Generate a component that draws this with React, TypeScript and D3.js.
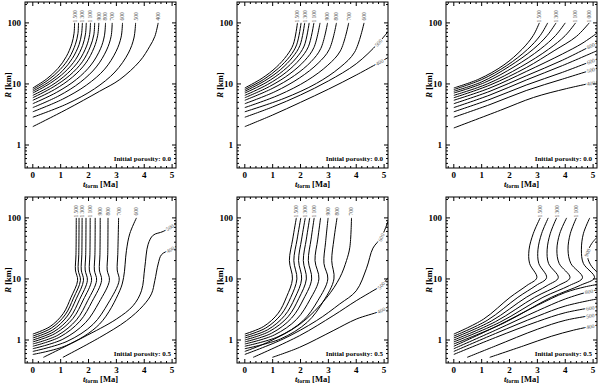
import React from 'react';
import * as d3 from 'd3';

type Pt = [number, number];
interface Contour { level: number; pts: Pt[]; label?: 'top' | number }

// porosity 0.0, left
const panelA: Contour[] = [
  { level: 1500, label: 'top', pts: [[0, 8.6], [0.5, 12.1], [0.9, 17.9], [1.2, 27.9], [1.4, 45.6], [1.48, 67.6], [1.5, 100]] },
  { level: 1400, pts: [[0, 8.1], [0.54, 11.5], [0.98, 17.2], [1.31, 27], [1.53, 44.8], [1.62, 66.8], [1.64, 100]] },
  { level: 1300, label: 'top', pts: [[0, 7.6], [0.59, 10.9], [1.07, 16.5], [1.42, 26.2], [1.66, 43.9], [1.75, 66.2], [1.78, 100]] },
  { level: 1200, pts: [[0, 7.1], [0.63, 10.3], [1.15, 15.7], [1.54, 25.3], [1.79, 42.9], [1.89, 65.5], [1.92, 100]] },
  { level: 1100, label: 'top', pts: [[0, 6.5], [0.68, 9.5], [1.24, 14.8], [1.66, 24.2], [1.93, 41.7], [2.04, 64.6], [2.07, 100]] },
  { level: 1000, pts: [[0, 5.95], [0.73, 8.9], [1.33, 13.9], [1.78, 23.1], [2.06, 40.5], [2.19, 63.7], [2.22, 100]] },
  { level: 900, label: 'top', pts: [[0, 5.4], [0.78, 8.1], [1.42, 12.9], [1.9, 21.9], [2.2, 39.3], [2.33, 62.7], [2.37, 100]] },
  { level: 800, label: 'top', pts: [[0, 4.75], [0.86, 7.3], [1.57, 11.9], [2.09, 20.5], [2.43, 37.7], [2.57, 61.4], [2.61, 100]] },
  { level: 700, label: 'top', pts: [[0, 4.1], [0.94, 6.4], [1.71, 10.7], [2.28, 19], [2.65, 36], [2.81, 60], [2.85, 100]] },
  { level: 600, label: 'top', pts: [[0, 3.5], [1.06, 5.6], [1.93, 9.6], [2.58, 17.5], [2.99, 34.2], [3.17, 58.5], [3.22, 100]] },
  { level: 500, label: 'top', pts: [[0, 2.85], [1.22, 4.7], [2.21, 8.3], [2.95, 15.7], [3.43, 32], [3.63, 56.6], [3.69, 100]] },
  { level: 400, label: 'top', pts: [[0, 2.0], [1.2, 3.8], [2.4, 7.6], [3.12, 11.8], [3.84, 23.6], [4.2, 41.5], [4.38, 60], [4.5, 100]] },
];

// porosity 0.0, middle
const panelB: Contour[] = [
  { level: 1500, label: 'top', pts: [[0, 8.6], [0.62, 12.4], [1.13, 18.8], [1.51, 29.3], [1.74, 44.5], [1.89, 100]] },
  { level: 1400, pts: [[0, 8.1], [0.67, 11.8], [1.21, 18.1], [1.62, 28.4], [1.86, 43.7], [2.02, 100]] },
  { level: 1300, label: 'top', pts: [[0, 7.6], [0.71, 11.2], [1.29, 17.3], [1.72, 27.6], [1.98, 42.8], [2.15, 100]] },
  { level: 1200, pts: [[0, 7.1], [0.76, 10.5], [1.39, 16.6], [1.85, 26.7], [2.13, 41.8], [2.31, 100]] },
  { level: 1100, label: 'top', pts: [[0, 6.5], [0.82, 9.8], [1.49, 15.6], [1.98, 25.5], [2.28, 40.6], [2.48, 100]] },
  { level: 1000, pts: [[0, 5.95], [0.89, 9.1], [1.62, 14.7], [2.16, 24.4], [2.48, 39.4], [2.7, 100]] },
  { level: 900, label: 'top', pts: [[0, 5.4], [0.98, 8.4], [1.78, 13.7], [2.38, 23.2], [2.73, 38.2], [2.97, 100]] },
  { level: 800, label: 'top', pts: [[0, 4.75], [1.09, 7.5], [1.97, 12.6], [2.63, 21.8], [3.03, 36.6], [3.29, 100]] },
  { level: 700, label: 'top', pts: [[0, 4.1], [1.23, 6.6], [2.24, 11.4], [2.98, 20.3], [3.43, 34.8], [3.73, 100]] },
  { level: 600, label: 'top', pts: [[0, 3.5], [1.41, 5.8], [2.57, 10.2], [3.42, 18.7], [3.94, 33.1], [4.28, 100]] },
  { level: 500, label: 4.8, pts: [[0, 2.85], [1, 4.2], [2, 6.6], [3, 11.2], [4, 21.4], [4.78, 46], [5.14, 72]] },
  { level: 400, label: 4.84, pts: [[0, 2.0], [1, 3.1], [2, 5.0], [3, 8.2], [4, 14], [5.14, 27]] },
];

// porosity 0.0, right
const panelC: Contour[] = [
  { level: 1500, label: 'top', pts: [[0, 8.6], [0.9, 12], [1.8, 20.5], [2.45, 37], [2.85, 62], [3.07, 100]] },
  { level: 1400, pts: [[0, 8.1], [1.0, 11.8], [1.9, 20], [2.65, 37], [3.1, 62], [3.37, 100]] },
  { level: 1300, label: 'top', pts: [[0, 7.6], [1.0, 10.8], [2.0, 19.5], [2.85, 37], [3.35, 62], [3.67, 100]] },
  { level: 1200, pts: [[0, 7.1], [1.1, 10.5], [2.2, 19.5], [3.1, 37], [3.65, 62], [4.0, 100]] },
  { level: 1100, label: 'top', pts: [[0, 6.5], [1.2, 10], [2.4, 19], [3.4, 37], [4.0, 62], [4.37, 100]] },
  { level: 1000, label: 'top', pts: [[0, 5.95], [1.3, 9.6], [2.6, 18.5], [3.6, 35], [4.4, 60], [4.86, 100]] },
  { level: 900, pts: [[0, 5.4], [1.3, 8.6], [2.6, 16], [3.9, 31], [4.6, 46], [5.14, 68]] },
  { level: 800, label: 4.92, pts: [[0, 4.75], [1.3, 7.6], [2.6, 13.6], [3.9, 24.5], [5.14, 47]] },
  { level: 700, pts: [[0, 4.1], [1.3, 6.6], [2.6, 11.6], [3.9, 20], [5.14, 35]] },
  { level: 600, label: 4.92, pts: [[0, 3.5], [1.3, 5.6], [2.6, 9.6], [3.9, 15.5], [5.14, 25.5]] },
  { level: 500, label: 4.92, pts: [[0, 2.85], [1.3, 4.6], [2.6, 7.8], [3.9, 12], [5.14, 18]] },
  { level: 400, label: 4.92, pts: [[0, 1.9], [1.67, 3.7], [2.86, 6.0], [4.05, 8.4], [5.14, 10.8]] },
];

// porosity 0.5, left
const panelD: Contour[] = [
  { level: 1500, label: 'top', pts: [[0, 1.25], [0.62, 1.66], [1.09, 2.7], [1.37, 4.97], [1.61, 9.5], [1.53, 14], [1.55, 25], [1.56, 100]] },
  { level: 1400, pts: [[0, 1.16], [0.66, 1.56], [1.16, 2.58], [1.46, 4.85], [1.71, 9.5], [1.63, 14], [1.65, 25], [1.66, 100]] },
  { level: 1300, label: 'top', pts: [[0, 1.08], [0.71, 1.46], [1.24, 2.47], [1.56, 4.74], [1.82, 9.5], [1.74, 14], [1.76, 25], [1.77, 100]] },
  { level: 1200, pts: [[0, 1.0], [0.76, 1.37], [1.34, 2.35], [1.68, 4.62], [1.96, 9.5], [1.88, 14], [1.9, 25], [1.91, 100]] },
  { level: 1100, label: 'top', pts: [[0, 0.93], [0.82, 1.29], [1.44, 2.25], [1.81, 4.52], [2.11, 9.5], [2.03, 14], [2.05, 25], [2.06, 100]] },
  { level: 1000, pts: [[0, 0.86], [0.9, 1.2], [1.57, 2.14], [1.97, 4.41], [2.29, 9.5], [2.21, 14], [2.23, 25], [2.24, 100]] },
  { level: 900, label: 'top', pts: [[0, 0.79], [0.97, 1.12], [1.69, 2.03], [2.13, 4.29], [2.47, 9.5], [2.39, 14], [2.41, 25], [2.42, 100]] },
  { level: 800, label: 'top', pts: [[0, 0.72], [1.08, 1.03], [1.89, 1.92], [2.38, 4.16], [2.75, 9.5], [2.67, 14], [2.69, 25], [2.7, 100]] },
  { level: 700, label: 'top', pts: [[0, 0.65], [1.23, 0.95], [2.16, 1.8], [2.71, 4.03], [3.1, 9.5], [3.03, 14], [3.05, 25], [3.08, 100]] },
  { level: 600, label: 'top', pts: [[0, 0.58], [1.2, 0.81], [2.4, 1.83], [3.12, 6.4], [3.26, 10.6], [3.36, 29], [3.48, 55], [3.72, 100]] },
  { level: 500, label: 4.92, pts: [[0.38, 0.52], [1.8, 1.1], [3.0, 2.2], [3.6, 3.65], [3.9, 6.4], [4.02, 15.5], [4.14, 37], [4.32, 52], [4.68, 60], [5.14, 80]] },
  { level: 400, label: 4.94, pts: [[1.08, 0.52], [2.4, 1.1], [3.36, 2.07], [3.96, 3.65], [4.26, 5.7], [4.38, 9.4], [4.5, 17.6], [4.62, 25], [4.92, 30], [5.14, 34]] },
];

// porosity 0.5, middle
const panelE: Contour[] = [
  { level: 1500, label: 'top', pts: [[0, 1.25], [0.68, 1.67], [1.2, 2.75], [1.5, 5.1], [1.71, 10], [1.6, 20], [1.72, 45], [1.85, 100]] },
  { level: 1400, pts: [[0, 1.16], [0.75, 1.57], [1.31, 2.63], [1.65, 5.0], [1.87, 10], [1.76, 20], [1.88, 45], [2.01, 100]] },
  { level: 1300, label: 'top', pts: [[0, 1.08], [0.82, 1.47], [1.43, 2.51], [1.8, 4.9], [2.04, 10], [1.93, 20], [2.04, 45], [2.17, 100]] },
  { level: 1200, pts: [[0, 1.0], [0.88, 1.38], [1.55, 2.4], [1.94, 4.8], [2.21, 10], [2.1, 20], [2.21, 45], [2.33, 100]] },
  { level: 1100, label: 'top', pts: [[0, 0.93], [0.96, 1.29], [1.68, 2.29], [2.11, 4.7], [2.4, 10], [2.28, 20], [2.38, 45], [2.49, 100]] },
  { level: 1000, pts: [[0, 0.86], [1.06, 1.21], [1.86, 2.18], [2.34, 4.6], [2.66, 10], [2.52, 20], [2.62, 45], [2.72, 100]] },
  { level: 900, label: 'top', pts: [[0, 0.79], [1.19, 1.13], [2.09, 2.07], [2.62, 4.4], [2.98, 10], [2.84, 18], [2.9, 40], [2.99, 100]] },
  { level: 800, label: 'top', pts: [[0, 0.72], [1.28, 1.04], [2.24, 1.95], [2.82, 4.3], [3.2, 10], [3.12, 20], [3.2, 45], [3.31, 100]] },
  { level: 700, label: 'top', pts: [[0, 0.65], [0.78, 0.9], [1.97, 1.8], [2.93, 4.9], [3.41, 10.5], [3.65, 20], [3.77, 33], [3.83, 100]] },
  { level: 600, label: 4.9, pts: [[0, 0.58], [1.38, 1.04], [2.57, 2.07], [3.41, 3.9], [4.0, 6.4], [4.37, 15], [4.6, 32], [4.9, 48], [5.14, 88]] },
  { level: 500, label: 4.9, pts: [[0.3, 0.52], [1.97, 1.18], [3.17, 2.5], [4.0, 4.4], [4.6, 6.4], [4.9, 7.8], [5.14, 10.5]] },
  { level: 400, label: 4.9, pts: [[0.99, 0.52], [1.97, 0.76], [3.17, 1.42], [4.0, 2.2], [4.84, 2.95], [5.14, 3.5]] },
];

// porosity 0.5, right (the 900 contour leaves and re-enters the frame)
const panelF: Contour[] = [
  { level: 1500, label: 'top', pts: [[0, 1.25], [1.07, 2.2], [2.02, 5.0], [2.62, 7.8], [2.98, 10.5], [2.72, 18], [2.7, 30], [2.85, 55], [3.1, 100]] },
  { level: 1400, pts: [[0, 1.16], [1.2, 2.1], [2.3, 5.0], [2.95, 7.8], [3.33, 10.5], [3.05, 18], [3.02, 30], [3.15, 55], [3.39, 100]] },
  { level: 1300, label: 'top', pts: [[0, 1.08], [1.35, 2.05], [2.6, 5.0], [3.35, 7.8], [3.75, 10.5], [3.4, 18], [3.35, 30], [3.46, 55], [3.69, 100]] },
  { level: 1200, pts: [[0, 1.0], [1.5, 2.0], [2.9, 5.0], [3.75, 7.8], [4.17, 10.5], [3.78, 18], [3.7, 30], [3.8, 55], [4.05, 100]] },
  { level: 1100, label: 'top', pts: [[0, 0.93], [1.65, 1.95], [3.2, 5.0], [4.15, 7.8], [4.62, 10.5], [4.2, 18], [4.1, 30], [4.18, 55], [4.4, 100]] },
  { level: 1000, pts: [[0, 0.86], [1.8, 1.9], [3.5, 5.0], [4.55, 7.9], [5.05, 10.5], [4.65, 18], [4.58, 30], [4.65, 55], [4.88, 100]] },
  { level: 900, pts: [[0, 0.79], [1.5, 1.65], [3.0, 3.7], [4.0, 6.0], [4.7, 7.4], [5.14, 8.1]] },
  { level: 900, label: 4.8, pts: [[5.14, 13], [4.95, 16], [4.82, 21], [4.8, 27], [4.95, 38], [5.14, 48]] },
  { level: 800, label: 4.85, pts: [[0, 0.72], [1.5, 1.45], [3.0, 3.0], [4.0, 4.7], [4.85, 6.2], [5.14, 6.6]] },
  { level: 700, pts: [[0, 0.65], [1.5, 1.28], [3.0, 2.45], [4.0, 3.6], [5.14, 4.7]] },
  { level: 600, label: 4.9, pts: [[0, 0.58], [1.5, 1.1], [3.0, 2.0], [4.0, 2.8], [5.14, 3.5]] },
  { level: 500, label: 4.9, pts: [[0.48, 0.52], [1.5, 0.8], [3.0, 1.5], [4.0, 2.1], [5.14, 2.6]] },
  { level: 400, label: 4.9, pts: [[1.29, 0.52], [2.5, 0.8], [3.5, 1.15], [4.3, 1.45], [5.14, 1.75]] },
];

const panelData = [panelA, panelB, panelC, panelD, panelE, panelF];
const porosities = ['0.0', '0.0', '0.0', '0.5', '0.5', '0.5'];
const xTicks = [0, 1, 2, 3, 4, 5];
const yTicks = [1, 10, 100];

const colLeft = [25, 237, 446];
const rowTop = [2, 197];
const PW = 151;
const PH = 166;
const FONT = "'Liberation Serif', 'Times New Roman', serif";

const fmtLevel = (v: number) =>
  v >= 1000 ? `${Math.floor(v / 1000)}\u2009${String(v % 1000).padStart(3, '0')}` : String(v);

function Panel({ data, porosity, left, top, id }: { data: Contour[]; porosity: string; left: number; top: number; id: string }) {
  const x = d3.scaleLinear().domain([-0.28, 5.14]).range([0, PW]);
  const y = d3.scaleLog().domain([0.42, 220]).range([PH, 0]);
  const line = d3.line<Pt>().x(d => x(d[0])).y(d => y(d[1])).curve(d3.curveCatmullRom.alpha(0.5));

  const xMinor = d3.range(-0.2, 5.15, 0.2).filter(v => Math.abs(v - Math.round(v)) > 0.01);
  const yMinor: number[] = [];
  [0.1, 1, 10, 100].forEach(dec => d3.range(2, 10).forEach(k => {
    const v = dec * k;
    if (v > 0.42 && v < 220) yMinor.push(v);
  }));

  const sideLabel = (c: Contour, t: number) => {
    // interpolate log R on the rightmost segment that spans t
    let seg = -1;
    for (let i = 0; i < c.pts.length - 1; i++) {
      const a = c.pts[i][0], b = c.pts[i + 1][0];
      if ((t - a) * (t - b) <= 0) seg = i;
    }
    if (seg < 0) return null;
    const [p, q] = [c.pts[seg], c.pts[seg + 1]];
    const f = (t - p[0]) / (q[0] - p[0] || 1);
    const r = Math.pow(10, Math.log10(p[1]) + f * (Math.log10(q[1]) - Math.log10(p[1])));
    let ang = Math.atan2(y(q[1]) - y(p[1]), x(q[0]) - x(p[0])) * 180 / Math.PI;
    if (ang > 90) ang -= 180;
    if (ang < -90) ang += 180;
    return { px: x(t), py: y(r), ang };
  };

  return (
    <g transform={`translate(${left},${top})`}>
      <defs>
        <clipPath id={id}><rect width={PW} height={PH} /></clipPath>
      </defs>
      <g clipPath={`url(#${id})`}>
        {data.map((c, i) => (
          <path key={i} d={line(c.pts) || ''} fill="none" stroke="#000" strokeWidth={1} />
        ))}
        {data.map((c, i) => {
          if (typeof c.label !== 'number') return null;
          const s = sideLabel(c, c.label);
          if (!s) return null;
          return (
            <text key={'s' + i} transform={`translate(${s.px},${s.py}) rotate(${s.ang})`}
              textAnchor="middle" dy="0.35em" fontSize={5.5} fill="#555" fontFamily={FONT}
              stroke="#fff" strokeWidth={2.5} paintOrder="stroke">{fmtLevel(c.level)}</text>
          );
        })}
      </g>
      {data.map((c, i) => {
        if (c.label !== 'top') return null;
        const end = c.pts[c.pts.length - 1];
        return (
          <text key={'t' + i} transform={`translate(${x(end[0])},${y(128)}) rotate(-90)`}
            textAnchor="middle" dy="0.35em" fontSize={5.5} fill="#555" fontFamily={FONT}>{fmtLevel(c.level)}</text>
        );
      })}
      <rect width={PW} height={PH} fill="none" stroke="#000" strokeWidth={1} />
      {xTicks.map(t => (
        <g key={'xt' + t}>
          <line x1={x(t)} x2={x(t)} y1={PH} y2={PH - 4} stroke="#000" />
          <line x1={x(t)} x2={x(t)} y1={0} y2={4} stroke="#000" />
          <text x={x(t)} y={PH + 9.5} textAnchor="middle" fontSize={9} fontWeight={700} fontFamily={FONT}>{t}</text>
        </g>
      ))}
      {xMinor.map(t => (
        <g key={'xm' + t.toFixed(1)}>
          <line x1={x(t)} x2={x(t)} y1={PH} y2={PH - 2} stroke="#000" />
          <line x1={x(t)} x2={x(t)} y1={0} y2={2} stroke="#000" />
        </g>
      ))}
      {yTicks.map(v => (
        <g key={'yt' + v}>
          <line x1={0} x2={4} y1={y(v)} y2={y(v)} stroke="#000" />
          <line x1={PW} x2={PW - 4} y1={y(v)} y2={y(v)} stroke="#000" />
          <text x={-4} y={y(v)} dy="0.35em" textAnchor="end" fontSize={9} fontWeight={700} fontFamily={FONT}>{v}</text>
        </g>
      ))}
      {yMinor.map(v => (
        <g key={'ym' + v}>
          <line x1={0} x2={2} y1={y(v)} y2={y(v)} stroke="#000" />
          <line x1={PW} x2={PW - 2} y1={y(v)} y2={y(v)} stroke="#000" />
        </g>
      ))}
      <text x={PW - 5} y={PH - 7} textAnchor="end" fontSize={7} fontWeight={700} fontFamily={FONT}>
        Initial porosity: {porosity}
      </text>
      <text x={PW / 2} y={PH + 18.5} textAnchor="middle" fontSize={8.5} fontWeight={700} fontFamily={FONT}>
        <tspan fontStyle="italic">t</tspan>
        <tspan fontSize={6} dy={1.5}>form</tspan>
        <tspan dy={-1.5}> [Ma]</tspan>
      </text>
      <text transform={`translate(-14,${PH / 2}) rotate(-90)`} textAnchor="middle" fontSize={8.5} fontWeight={700} fontFamily={FONT}>
        <tspan fontStyle="italic">R</tspan> [km]
      </text>
    </g>
  );
}

export default function App() {
  return (
    <svg width={600} height={387} style={{ position: 'absolute', left: 0, top: 0, background: '#fff' }}>
      {panelData.map((d, i) => (
        <Panel key={i} id={`clip${i}`} data={d} porosity={porosities[i]}
          left={colLeft[i % 3]} top={rowTop[Math.floor(i / 3)]} />
      ))}
    </svg>
  );
}
